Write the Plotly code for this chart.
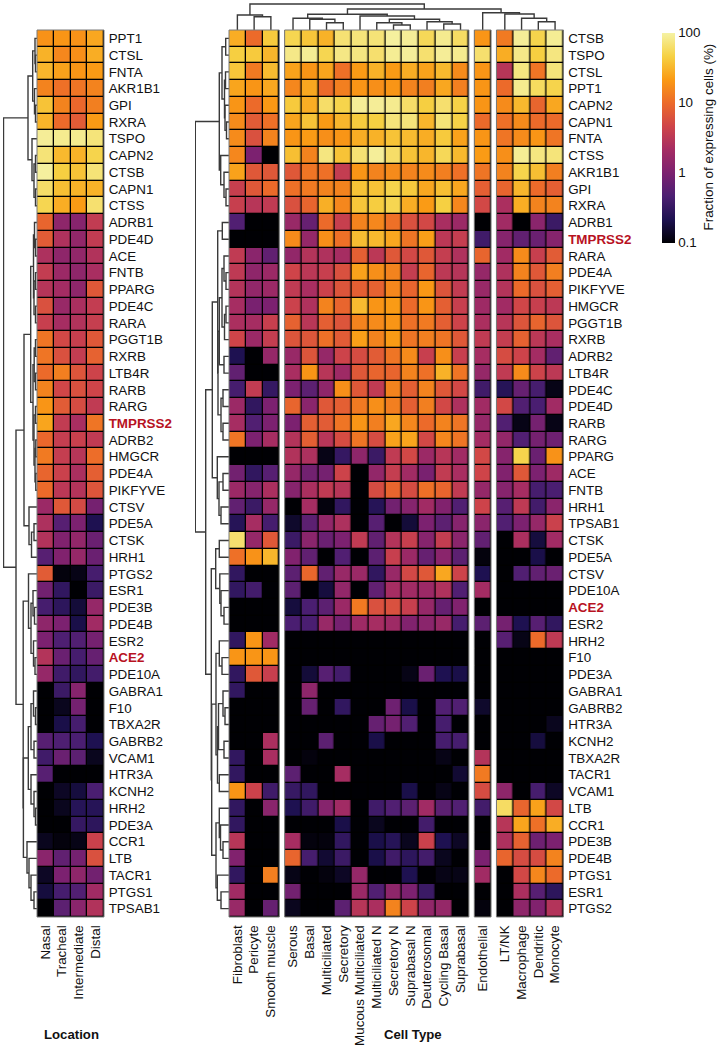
import numpy as np
import plotly.graph_objects as go

W, H = 721, 1050

LOCATIONS = ["Nasal", "Tracheal", "Intermediate", "Distal"]
LOCATION_GENES = ["PPT1","CTSL","FNTA","AKR1B1","GPI","RXRA","TSPO","CAPN2","CTSB","CAPN1","CTSS","ADRB1","PDE4D","ACE","FNTB","PPARG","PDE4C","RARA","PGGT1B","RXRB","LTB4R","RARB","RARG","TMPRSS2","ADRB2","HMGCR","PDE4A","PIKFYVE","CTSV","PDE5A","CTSK","HRH1","PTGS2","ESR1","PDE3B","PDE4B","ESR2","ACE2","PDE10A","GABRA1","F10","TBXA2R","GABRB2","VCAM1","HTR3A","KCNH2","HRH2","PDE3A","CCR1","LTB","TACR1","PTGS1","TPSAB1"]
LOCATION_VALUES = [
[19,20,19,26],[30,16,18,28],[32,24,20,22],[15,11,12,15],[38,15,9.5,14],[31,10,7.5,22],
[90,85,85,72],[70,33,30,50],[95,45,38,70],[62,36,30,30],[52,28,22,66],
[9,1.4,1.2,3.6],[7.5,2.6,1.5,3.6],[2.5,1.4,1.5,2.7],[3.7,1.8,1.4,2.3],[2.9,2.1,1.4,7],[6,1.7,2.4,3.7],
[4,2.2,2.7,3.9],[12,5,4,7],[12,6,3.7,8.5],[10,14,6.5,4.5],[15,4.8,6,4.6],[20,7.5,5.5,3.5],[25,3.6,2.3,12],
[9.5,3.8,4.1,3.5],[13,3.8,3,10.5],[9,4.2,2.4,8],[10,3.2,2.8,6.5],
[1.8,7,5.2,0.9],[2.5,0.55,1,0.22],[2.7,1.1,1.5,0.75],[0.55,1.1,1.6,0.75],
[7.5,0.11,0.12,0.42],[0.85,0.3,0.1,0.35],[0.42,0.28,0.17,1.6],[1.4,1,0.2,2],[1,0.48,0.5,0.9],[2.8,0.75,0.42,0.7],[1.6,0.38,0.3,0.4],
[0.1,0.35,1.2,0.1],[0.1,0.13,0.9,0.1],[0.1,0.2,0.42,0.1],[0.55,0.48,0.45,0.22],[0.38,0.75,0.6,0.13],[0.55,0.1,0.1,0.1],
[0.1,0.14,0.18,0.45],[0.1,0.13,0.25,0.25],[0.1,0.1,0.32,0.28],[0.13,0.11,0.12,4.2],[1.3,0.65,0.9,6],[0.14,1,1.4,0.85],[0.18,0.42,0.5,2],[0.1,0.6,1.3,2.7],
]

CELL_GENES = ["CTSB","TSPO","CTSL","PPT1","CAPN2","CAPN1","FNTA","CTSS","AKR1B1","GPI","RXRA","ADRB1","TMPRSS2","RARA","PDE4A","PIKFYVE","HMGCR","PGGT1B","RXRB","ADRB2","LTB4R","PDE4C","PDE4D","RARB","RARG","PPARG","ACE","FNTB","HRH1","TPSAB1","CTSK","PDE5A","CTSV","PDE10A","ACE2","ESR2","HRH2","F10","PDE3A","GABRA1","GABRB2","HTR3A","KCNH2","TBXA2R","TACR1","VCAM1","LTB","CCR1","PDE3B","PDE4B","PTGS1","ESR1","PTGS2"]
STROMAL = ["Fibroblast","Pericyte","Smooth muscle"]
EPITHELIAL = ["Serous","Basal","Multiciliated","Secretory","Mucous Multiciliated","Multiciliated N","Secretory N","Suprabasal N","Deuterosomal","Cycling Basal","Suprabasal"]
ENDOTHELIAL = ["Endothelial"]
IMMUNE = ["LT/NK","Macrophage","Dendritic","Monocyte"]

STROMAL_VALUES = [
[28,10,42],[45,42,32],[40,13,34],[25,20,26],[20,10,21],[17,7.5,11],[17,6,15],[16,1,0.1],[24,7,7],[4,7,10],[4,3,3.5],
[0.5,0.1,0.1],[0.1,0.1,0.1],[3.5,1.3,0.65],[3.4,1.4,1.8],[2.8,1.5,1.8],[2.2,0.95,1],[2.4,2.2,4],[4.6,1.8,3.8],
[0.22,0.1,1.6],[0.65,0.1,0.1],[0.42,3.6,0.32],[1.8,0.3,1],[2.2,0.5,1],[12,1,2.2],[0.1,0.1,0.1],[0.85,0.3,0.55],[1.8,1.2,2.4],
[0.65,0.35,1.6],[0.25,2.2,0.42],[65,1.6,7],[11,19,32],[0.3,0.1,0.1],[0.3,0.4,0.1],[0.1,0.1,0.1],[0.1,0.1,0.1],
[0.3,20,2],[20,20,20],[0.3,7,4],[0.3,0.1,0.1],[0.1,0.1,0.1],[0.1,0.1,0.1],[0.1,0.1,2.4],[0.3,0.1,2.3],[0.3,0.1,0.1],[20,4.4,0.38],
[0.3,0.1,1.3],[0.3,0.1,0.1],[3,0.1,0.1],[1.1,0.1,0.1],[0.3,0.1,14],[2,0.1,0.1],[1.7,0.1,0.7],
]
EPITHELIAL_VALUES = [
[52,40,30,68,72,70,95,90,55,85,60],
[80,88,52,78,76,65,88,92,66,90,85],
[24,20,25,11,22,30,22,28,24,33,17],
[16,26,10,14,20,18,20,15,14,26,14],
[42,28,62,50,90,90,85,62,45,65,48],
[25,38,22,32,43,46,72,72,32,70,48],
[20,22,18,20,28,30,38,34,28,42,24],
[36,15,75,38,68,92,62,38,32,55,33],
[7,12,11,3.7,20,15,17,15,17,14,11],
[11,13,15,15,38,38,50,42,26,36,26],
[6,9,29,16,40,44,52,28,22,46,16],
[1.7,0.7,10,4,15,16,11,6,5,2.3,1.8],
[17,1.6,18,11,35,33,26,12,23,3.2,3.8],
[1.5,2.8,2.6,2.2,8,3.2,7,5,7,3.8,2.6],
[4.6,3.2,4,6,24,18,15,3.8,9,3.3,2.9],
[3.5,2.3,4.4,6.5,8,8.5,16,9,21,6.5,3.6],
[4.3,2.6,15,9,34,20,22,10,20,8,4],
[8.5,3.1,8,6.5,15,17,20,11,13,8,4.5],
[6.5,6.8,11,7.5,23,15,22,12,14,12,7],
[1.7,6.5,1.6,4.5,5.5,7.5,12,17,4,18,4],
[2.3,20,3,1.9,7,9,9,15,11,30,12],
[1,0.6,1.4,18,7,3.5,15,8,15,7,5],
[9,1.3,7,8,13,18,14,8,14,5,2.5],
[1,8,7.5,12,20,14,26,16,10,15,12],
[2.8,8,3,5.5,12,5.5,24,25,5,16,12],
[2.7,2.5,0.12,0.32,1.4,0.35,3.5,5,1.8,3,2],
[1.6,0.85,0.9,4.5,0.1,1.5,3.8,2,0.95,3.6,2.3],
[1.2,2.4,3.5,3,0.1,5.5,9,5.5,11,9,3.5],
[0.1,2.2,0.11,0.3,0.1,0.25,0.85,1.2,2,1.1,0.5],
[0.15,0.6,1.5,2.5,0.1,0.55,0.1,0.17,1,0.6,1.2],
[0.35,1.3,0.75,1,3.5,0.65,2.8,4,1.2,3.7,1.3],
[1.1,0.65,0.1,0.5,0.1,0.6,4,1.8,0.7,1.3,0.6],
[0.6,9.5,0.65,1.7,1.8,0.3,1.7,5,7,26,4.5],
[0.6,0.1,0.18,1.5,0.1,0.65,2.2,2,1.8,2.6,0.5],
[0.18,0.45,0.6,1.8,13,6,6,4,1.6,0.7,1.1],
[0.45,0.45,1.7,0.9,1.9,2.2,1.9,1.1,1.3,1.7,0.42],
[0.1,0.1,0.1,0.1,0.1,0.1,0.1,0.1,0.1,0.1,0.1],
[0.1,0.1,0.1,0.1,0.1,0.1,0.1,0.1,0.1,0.1,0.1],
[0.1,0.17,0.55,0.4,0.1,0.1,0.1,0.12,0.75,0.22,0.2],
[0.1,1.4,0.1,0.1,0.1,0.1,0.1,0.1,0.1,0.1,0.1],
[0.1,0.7,0.1,0.3,0.1,0.1,0.8,0.2,0.1,0.5,0.5],
[0.1,0.1,0.1,0.1,0.1,0.7,0.9,0.5,0.1,0.42,0.1],
[0.1,0.1,0.6,0.1,0.1,0.2,0.1,0.1,0.1,0.42,0.42],
[0.1,0.11,0.1,0.1,0.1,0.1,0.1,0.1,0.1,0.12,0.1],
[0.6,0.1,0.1,2.2,0.1,0.1,0.1,0.1,0.1,0.1,0.16],
[0.33,0.3,0.1,0.1,0.1,0.1,0.1,0.2,0.1,0.12,0.1],
[0.22,0.38,1.2,2,0.1,0.38,0.5,0.6,2,0.6,0.5],
[0.1,0.1,0.1,0.2,0.1,0.13,0.1,0.1,0.4,0.1,0.1],
[2.2,0.11,0.11,0.3,0.1,0.2,0.25,0.13,4.2,0.22,0.14],
[9,0.42,0.16,0.35,0.1,0.2,0.38,0.28,0.4,0.13,0.1],
[0.12,0.1,0.11,0.14,1.6,0.1,0.1,0.22,0.1,0.12,0.12],
[0.85,0.1,0.1,0.1,1.8,0.5,1.4,1,0.35,0.1,0.1],
[0.13,0.1,0.1,0.6,3,2.4,15,4.5,1.5,1.6,0.1],
]
ENDOTHELIAL_VALUES = [[v] for v in [20,65,20,20,20,10,20,22,12,8,5,0.1,0.38,9,1.6,1.7,1.9,2.4,3.5,2.2,1.6,0.38,2,1.6,2.1,5,4.6,1.6,4.5,1.3,0.65,0.11,0.22,2.1,0.1,0.6,0.1,0.1,0.1,0.1,0.15,0.1,0.1,2.8,13,5.5,0.4,0.1,0.1,1,2,0.1,0.11]]
IMMUNE_VALUES = [
[13,90,50,88],[28,80,45,75],[3,75,12,72],[10,85,58,50],[17,33,9,26],[11,17,10,10],[12,17,20,12],[18,88,75,72],[15,50,36,14],[9,32,10,8],[2.4,28,15,15],
[2,0.1,1.3,0.35],[1.2,0.65,0.75,1.2],[2,17,4,7.5],[2.6,15,7,14],[2.8,10,6,8],[2,4.8,4,3.3],[3,6.5,9,6.5],[3.8,8.5,3.2,2.3],[5.5,4.5,2.1,0.65],[3.5,17,4.5,3.3],
[0.25,0.7,0.42,0.12],[5,0.5,0.45,2],[0.5,0.12,0.9,0.12],[1.5,0.5,0.9,0.8],[1.2,50,0.75,19],[1.1,7,1,1.9],[1.2,2.2,0.42,0.45],[0.55,3.4,0.4,1.3],[0.5,1,1.6,4.2],
[0.1,2.4,0.18,2],[0.1,0.1,0.2,0.1],[0.1,0.5,0.65,0.75],[0.1,0.1,0.1,0.1],[0.1,0.1,0.1,0.1],[0.9,0.22,0.55,0.3],[0.55,0.12,10,3.4],[0.1,0.1,0.1,0.1],[0.1,0.1,0.1,0.1],
[0.1,0.1,0.1,0.1],[0.1,0.1,0.1,0.1],[0.1,0.1,0.1,0.13],[0.1,0.1,0.18,0.1],[0.1,0.1,0.1,0.1],[0.1,0.1,0.1,0.1],[1.4,0.1,0.42,0.14],
[60,9,24,5],[3,25,11,28],[2.5,8.5,0.8,1],[9,5.5,5.5,15],[0.1,5,16,10],[0.1,2.4,0.55,0.28],[0.1,1.4,1.1,2.8],
]

# Cluster trees: [merge height, child, child]; an integer child is a row/column index.
LOCATION_ROW_TREE = [33.5,
    [9,[4.3,[2,0,[1.5,1,2]],[2.5,3,[1.5,4,5]]],[5,6,[3,[1.5,7,8],[1.5,9,10]]]],
    [21,
        [13,[6.3,[3.5,[2.5,11,[1.5,12,13]],[3,[1.5,14,15],[1.5,16,17]]],
                 [4,[2.8,[1.5,18,19],[1.5,20,21]],[3,[1.5,22,23],[2,[1.2,24,25],[1.2,26,27]]]]],
            [8,28,[5.5,[3,29,30],31]]],
        [13.8,[8.5,32,[6,[4,33,[2.5,34,35]],[3.5,36,[2,37,38]]]],
              [13.6,[8.7,[6,[3.5,39,[1.5,40,41]],[3,42,43]],[6,44,[3,45,[1.5,46,47]]]],
                    [10,48,[8,49,[6,50,[3,51,52]]]]]]]]
CELL_ROW_TREE = [33.7,
    [9.7,[7,[3.3,0,1],[4.5,[3.5,2,3],[4,4,[2.5,5,6]]]],[8.3,7,[5,8,[3,9,10]]]],
    [23.3,
        [16.7,
            [11.3,[6.7,11,12],[11,[9.7,[7,[5,13,[3,14,15]],[4.5,[3,16,17],18]],[5,19,20]],[8,[6,21,22],[6,23,24]]]],
            [11.7,25,[10,[6,26,27],[8,28,29]]]],
        [17.7,
            [13.3,[9.7,30,31],[9.2,32,[8,33,[5,34,35]]]],
            [17.3,
                [13,[9.7,36,[7,37,38]],[11.5,[10.5,[6,39,[4,40,41]],[5,42,43]],[9.7,44,45]]],
                [13,[9.7,46,[8.5,47,[6,48,49]]],[11.7,50,[8,51,52]]]]]]]
COLUMN_TREE = [26,
    [15,0,[13.3,1,2]],
    [21,
        [15.7,[11.7,3,[10.7,4,[7.3,5,6]]],[14,7,[10.7,[7.3,8,[5,9,10]],[8.3,11,[6,12,13]]]]],
        [17.3,14,[16,15,[11.7,16,[8.3,17,18]]]]]]

COLORBAR_TICKS = [0.1, 1, 10, 100]
HIGHLIGHT = {"TMPRSS2", "ACE2"}
RED = "#b8121f"
FONT = "Liberation Sans, Arial, sans-serif"
TXT = "#111111"
FS = 13.4
INFERNO = ['#000004','#1d1150','#4c1f72','#7c2170','#a52c63','#cf4449','#ec6a2a','#fa9a14','#f6d143','#f5f2a4']

# ---- layout in pixels ----
TOP, BOTTOM = 30.0, 917.0
CELL = 16.75
GAP = 5.4
def px(x): return x / W
def py(y): return 1 - y / H

fig = go.Figure()
layout = {}
shapes = []

def label(g):
    return f'<b><span style="color:{RED}">{g}</span></b>' if g in HIGHLIGHT else g

def add_panel(idx, left, cols, values, yname):
    xn = "x" if idx == 1 else f"x{idx}"
    right = left + CELL * len(cols)
    z = np.log10(np.array(values, dtype=float))
    fig.add_trace(go.Heatmap(z=z, x=list(range(len(cols))), y=list(range(len(values))),
                             coloraxis="coloraxis", xgap=1.3, ygap=1.3, xaxis=xn, yaxis=yname,
                             hoverinfo="skip"))
    layout["xaxis" if idx == 1 else f"xaxis{idx}"] = dict(
        domain=[px(left), px(right)], range=[-0.5, len(cols) - 0.5], anchor=yname,
        tickmode="array", tickvals=list(range(len(cols))), ticktext=cols, tickangle=-90,
        showgrid=False, zeroline=False, showline=False, ticks="outside", ticklen=2,
        tickcolor="rgba(0,0,0,0)", tickfont=dict(size=FS, family=FONT, color=TXT), fixedrange=True)
    ds = "x domain" if idx == 1 else f"x{idx} domain"
    yds = yname + " domain"
    shapes.append(dict(type="rect", xref=ds, yref=yds, x0=0, x1=1, y0=0, y1=1, layer="below",
                       fillcolor="#000000", line=dict(width=0)))
    shapes.append(dict(type="rect", xref=ds, yref=yds, x0=0, x1=1, y0=0, y1=1, layer="above",
                       fillcolor="rgba(0,0,0,0)", line=dict(width=1, color="#7a7a7a")))
    return right

def y_axis(genes, anchor):
    return dict(domain=[py(BOTTOM), py(TOP)], range=[len(genes) - 0.5, -0.5], anchor=anchor, side="right",
                tickmode="array", tickvals=list(range(len(genes))), ticktext=[label(g) for g in genes],
                showgrid=False, zeroline=False, showline=False, ticks="outside", ticklen=1, tickwidth=1,
                tickcolor="rgba(0,0,0,0)", tickfont=dict(size=FS, family=FONT, color=TXT), fixedrange=True)

add_panel(1, 37.0, LOCATIONS, LOCATION_VALUES, "y")
layout["yaxis"] = y_axis(LOCATION_GENES, "x")

left0 = 229.0
cur = left0
panel_defs = [(STROMAL, STROMAL_VALUES), (EPITHELIAL, EPITHELIAL_VALUES),
              (ENDOTHELIAL, ENDOTHELIAL_VALUES), (IMMUNE, IMMUNE_VALUES)]
col_pos = []
for k, (cols, vals) in enumerate(panel_defs):
    r = add_panel(k + 2, cur, cols, vals, "y2")
    col_pos += [cur + (i + 0.5) * CELL for i in range(len(cols))]
    cur = r + GAP
right_end = r
layout["yaxis2"] = y_axis(CELL_GENES, "x5")

def tree_lines(tree, pos):
    hs, ps = [], []
    def rec(n):
        if isinstance(n, int):
            return pos[n], 0.0
        h, a, b = n
        pa, ha = rec(a)
        pb, hb = rec(b)
        hs.extend([ha, h, h, hb, None])
        ps.extend([pa, pa, pb, pb, None])
        return (pa + pb) / 2, h
    rec(tree)
    return hs, ps

DCOL = "#3a3a3a"
LW = 1.4
hs, ps = tree_lines(LOCATION_ROW_TREE, list(range(len(LOCATION_GENES))))
fig.add_trace(go.Scatter(x=hs, y=ps, mode="lines", line=dict(color=DCOL, width=LW), xaxis="x6", yaxis="y", hoverinfo="skip", showlegend=False))
layout["xaxis6"] = dict(domain=[px(3.0), px(37.0)], range=[34, 0], visible=False, anchor="y", fixedrange=True)
hs, ps = tree_lines(CELL_ROW_TREE, list(range(len(CELL_GENES))))
fig.add_trace(go.Scatter(x=hs, y=ps, mode="lines", line=dict(color=DCOL, width=LW), xaxis="x7", yaxis="y2", hoverinfo="skip", showlegend=False))
layout["xaxis7"] = dict(domain=[px(195.0), px(229.0)], range=[34, 0], visible=False, anchor="y2", fixedrange=True)
hs, ps = tree_lines(COLUMN_TREE, col_pos)
fig.add_trace(go.Scatter(x=ps, y=hs, mode="lines", line=dict(color=DCOL, width=LW), xaxis="x8", yaxis="y3", hoverinfo="skip", showlegend=False))
layout["xaxis8"] = dict(domain=[px(left0), px(right_end)], range=[left0, right_end], visible=False, anchor="y3", fixedrange=True)
layout["yaxis3"] = dict(domain=[py(30.0), py(3.0)], range=[0, 27], visible=False, anchor="x8", fixedrange=True)

annotations = [
    dict(text="<b>Location</b>", xref="paper", yref="paper", x=px(71), y=py(1034), showarrow=False,
         font=dict(size=13.2, family=FONT, color=TXT), xanchor="center", yanchor="middle"),
    dict(text="<b>Cell Type</b>", xref="paper", yref="paper", x=px(413), y=py(1034), showarrow=False,
         font=dict(size=13.2, family=FONT, color=TXT), xanchor="center", yanchor="middle"),
    dict(text="Fraction of expressing cells (%)", xref="paper", yref="paper", x=px(708.5), y=py(137), showarrow=False,
         textangle=-90, font=dict(size=FS, family=FONT, color=TXT), xanchor="center", yanchor="middle"),
]

fig.update_layout(
    width=W, height=H, margin=dict(l=0, r=0, t=0, b=0),
    paper_bgcolor="white", plot_bgcolor="rgba(0,0,0,0)", showlegend=False,
    font=dict(family=FONT, size=FS, color=TXT),
    shapes=shapes, annotations=annotations,
    coloraxis=dict(
        colorscale=INFERNO, cmin=-1, cmax=2,
        colorbar=dict(x=px(661.7), xanchor="left", xpad=0, xref="paper",
                      y=py(32.5), yanchor="top", ypad=0, yref="paper",
                      len=209.5 / H, lenmode="fraction", thickness=13.3, thicknessmode="pixels",
                      outlinewidth=0, ticks="", tickmode="array",
                      tickvals=[float(np.log10(t)) for t in COLORBAR_TICKS],
                      ticktext=[str(t) for t in COLORBAR_TICKS],
                      tickfont=dict(size=FS, family=FONT, color=TXT)),
    ),
    **layout,
)
fig.write_html("out.html", config={"displayModeBar": False},
               post_script="document.body.style.margin='0';document.documentElement.style.overflow='hidden';")
